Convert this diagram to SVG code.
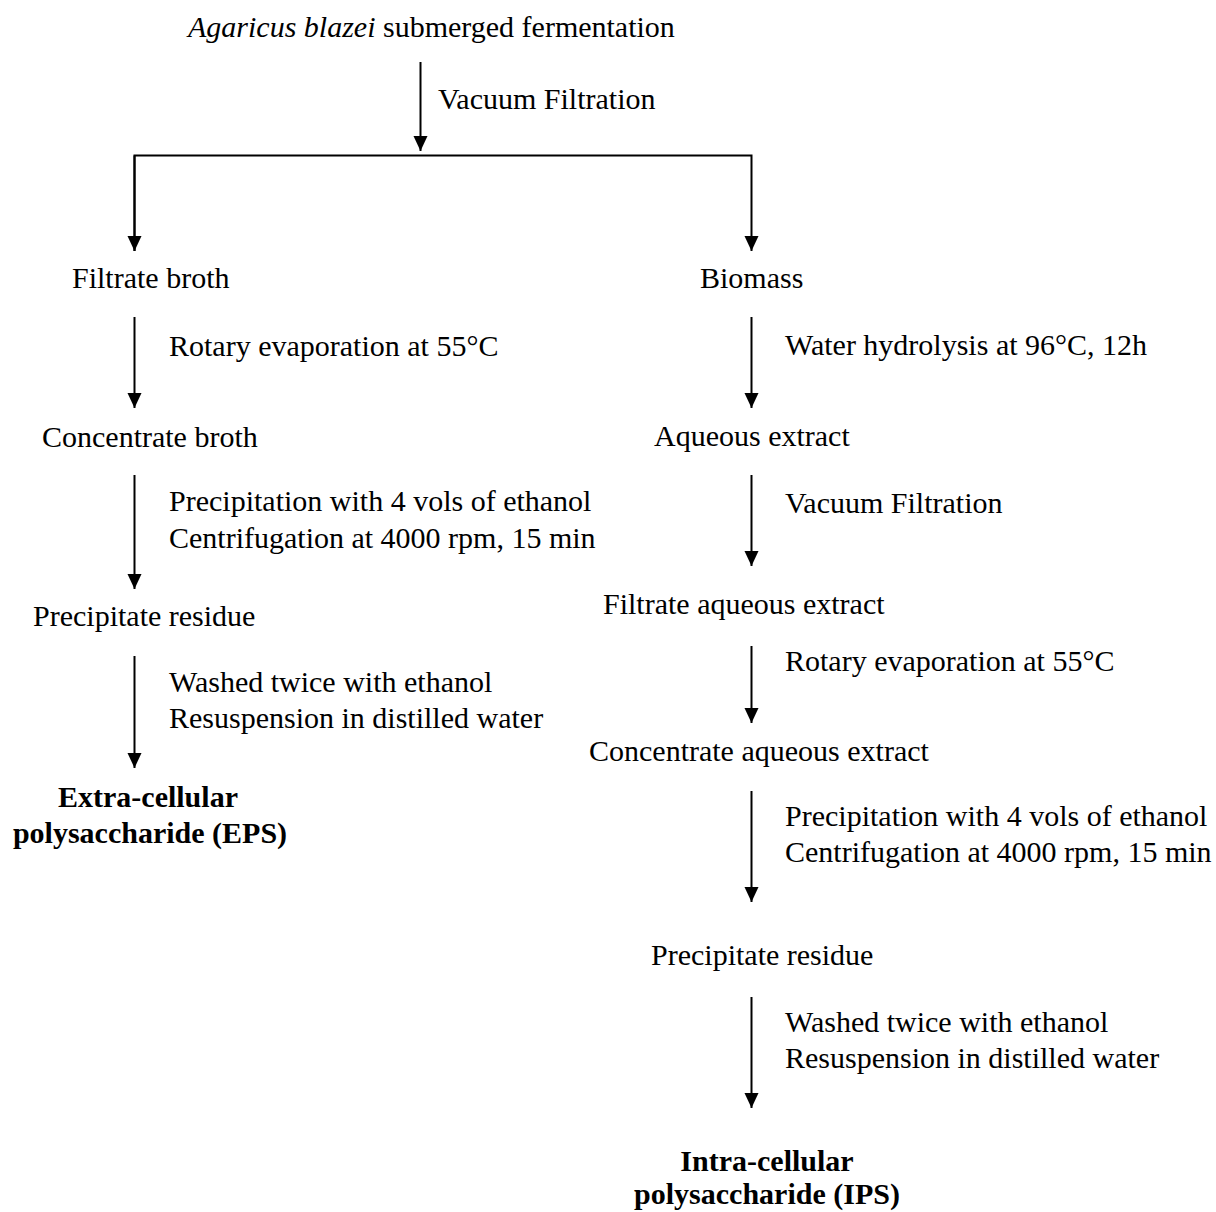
<svg xmlns="http://www.w3.org/2000/svg" width="1216" height="1212" viewBox="0 0 1216 1212">
<style>
text{font-family:"Liberation Serif","Times New Roman",serif;font-size:30px;fill:#000}
.b{font-weight:bold;text-anchor:middle}
.c line,.c path{stroke:#000;stroke-width:2;fill:none}
</style>
<defs>
<marker id="ah" markerUnits="userSpaceOnUse" markerWidth="16" markerHeight="16" viewBox="0 0 16 16" refX="15" refY="8" orient="auto">
<path d="M0,1 L15,8 L0,15 Z" fill="#000"/>
</marker>
</defs>
<rect width="1216" height="1212" fill="#fff"/>
<g class="c" id="connectors">
<line x1="420.5" y1="62" x2="420.5" y2="151" marker-end="url(#ah)"/>
<path d="M134.5,251 V155.5 H751.5 V251" marker-end="url(#ah)"/>
<line x1="134.5" y1="155.5" x2="134.5" y2="251" marker-end="url(#ah)"/>
<line x1="134.5" y1="317" x2="134.5" y2="408" marker-end="url(#ah)"/>
<line x1="134.5" y1="475" x2="134.5" y2="589" marker-end="url(#ah)"/>
<line x1="134.5" y1="656" x2="134.5" y2="768" marker-end="url(#ah)"/>
<line x1="751.5" y1="317" x2="751.5" y2="408" marker-end="url(#ah)"/>
<line x1="751.5" y1="475" x2="751.5" y2="566" marker-end="url(#ah)"/>
<line x1="751.5" y1="646" x2="751.5" y2="723" marker-end="url(#ah)"/>
<line x1="751.5" y1="791" x2="751.5" y2="902" marker-end="url(#ah)"/>
<line x1="751.5" y1="997" x2="751.5" y2="1108" marker-end="url(#ah)"/>
</g>
<g id="n-start"><text x="188" y="37"><tspan font-style="italic">Agaricus blazei</tspan> submerged fermentation</text></g>
<g id="l-vac1"><text x="438" y="109">Vacuum Filtration</text></g>
<g id="n-filtrate"><text x="72" y="288">Filtrate broth</text></g>
<g id="n-biomass"><text x="700" y="288">Biomass</text></g>
<g id="l-rot1"><text x="169" y="356">Rotary evaporation at 55°C</text></g>
<g id="l-hyd"><text x="785" y="355">Water hydrolysis at 96°C, 12h</text></g>
<g id="n-conc"><text x="42" y="447">Concentrate broth</text></g>
<g id="n-aq"><text x="654" y="446">Aqueous extract</text></g>
<g id="l-prec1"><text x="169" y="511">Precipitation with 4 vols of ethanol</text><text x="169" y="548">Centrifugation at 4000 rpm, 15 min</text></g>
<g id="l-vac2"><text x="785" y="513">Vacuum Filtration</text></g>
<g id="n-res1"><text x="33" y="626">Precipitate residue</text></g>
<g id="n-faq"><text x="603" y="614">Filtrate aqueous extract</text></g>
<g id="l-wash1"><text x="169" y="692">Washed twice with ethanol</text><text x="169" y="728">Resuspension in distilled water</text></g>
<g id="l-rot2"><text x="785" y="671">Rotary evaporation at 55°C</text></g>
<g id="n-eps"><text class="b" x="148" y="807">Extra-cellular</text><text class="b" x="150" y="843">polysaccharide (EPS)</text></g>
<g id="n-caq"><text x="589" y="761">Concentrate aqueous extract</text></g>
<g id="l-prec2"><text x="785" y="826">Precipitation with 4 vols of ethanol</text><text x="785" y="862">Centrifugation at 4000 rpm, 15 min</text></g>
<g id="n-res2"><text x="651" y="965">Precipitate residue</text></g>
<g id="l-wash2"><text x="785" y="1032">Washed twice with ethanol</text><text x="785" y="1068">Resuspension in distilled water</text></g>
<g id="n-ips"><text class="b" x="767" y="1171">Intra-cellular</text><text class="b" x="767" y="1204">polysaccharide (IPS)</text></g>
</svg>
